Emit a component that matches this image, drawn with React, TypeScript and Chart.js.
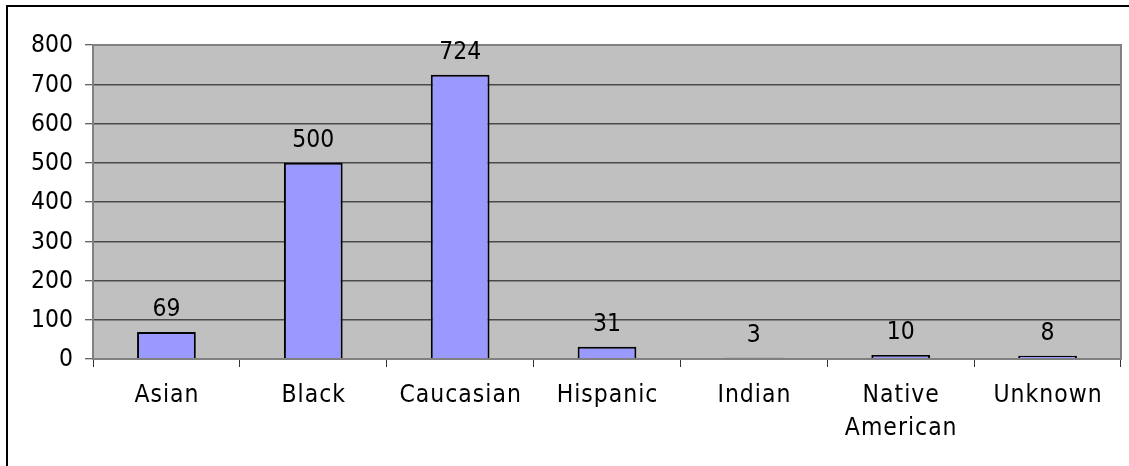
import React, { useEffect, useRef } from "react";
import { Chart, registerables } from "chart.js";

Chart.register(...registerables);

const categories: (string | string[])[] = [
  "Asian",
  "Black",
  "Caucasian",
  "Hispanic",
  "Indian",
  ["Native", "American"],
  "Unknown",
];
const counts: number[] = [69, 500, 724, 31, 3, 10, 8];
const yMin = 0;
const yMax = 800;
const yStep = 100;

const FONT = "'DejaVu Sans', Verdana, sans-serif";
const TEXT_STRETCH = 1.12;

// Text drawn slightly taller than wide, in the style of the chart's typeface
function drawText(ctx: CanvasRenderingContext2D, text: string, x: number, y: number, spacing = 0) {
  ctx.save();
  (ctx as any).letterSpacing = `${spacing}px`;
  ctx.translate(x + spacing / 2, y);
  ctx.scale(1, TEXT_STRETCH);
  ctx.fillText(text, 0, 0);
  ctx.restore();
}

// Grey plot background, frame lines, axis labels and value labels
const decorations = {
  id: "decorations",
  beforeDraw(chart: any) {
    const { ctx, chartArea } = chart;
    ctx.save();
    ctx.fillStyle = "#C0C0C0";
    ctx.fillRect(chartArea.left, chartArea.top, chartArea.right - chartArea.left, chartArea.bottom - chartArea.top);
    // outer frame (top and left edges)
    ctx.strokeStyle = "#000";
    ctx.lineWidth = 2;
    ctx.beginPath();
    ctx.moveTo(7, chart.height + 10);
    ctx.lineTo(7, 6);
    ctx.lineTo(chart.width + 10, 6);
    ctx.stroke();
    ctx.restore();
  },
  afterDatasetsDraw(chart: any) {
    const { ctx, chartArea } = chart;
    ctx.save();
    ctx.strokeStyle = "#808080";
    ctx.lineWidth = 2;
    ctx.strokeRect(chartArea.left, chartArea.top, chartArea.right - chartArea.left, chartArea.bottom - chartArea.top);

    ctx.fillStyle = "#000";
    ctx.font = `22px ${FONT}`;

    // value labels
    const meta = chart.getDatasetMeta(0);
    ctx.textAlign = "center";
    ctx.textBaseline = "alphabetic";
    meta.data.forEach((bar: any, i: number) => {
      drawText(ctx, String(counts[i]), bar.x, bar.y - 16);
    });

    // y tick labels
    const yScale = chart.scales.y;
    ctx.textAlign = "right";
    ctx.textBaseline = "middle";
    yScale.ticks.forEach((t: any) => {
      drawText(ctx, String(t.value), chartArea.left - 20, yScale.getPixelForValue(t.value) + 1);
    });

    // category labels
    const xScale = chart.scales.x;
    ctx.textAlign = "center";
    categories.forEach((label, i) => {
      const lines = Array.isArray(label) ? label : [label];
      const x = xScale.getPixelForValue(i);
      lines.forEach((line, j) => {
        drawText(ctx, line, x, chartArea.bottom + 37 + j * 33, 1);
      });
    });
    ctx.restore();
  },
};

export default function App() {
  const canvasRef = useRef<HTMLCanvasElement | null>(null);

  useEffect(() => {
    if (!canvasRef.current) return;
    const chart = new Chart(canvasRef.current, {
      type: "bar",
      data: {
        labels: categories,
        datasets: [
          {
            data: counts,
            backgroundColor: "#9999FF",
            borderColor: "#000",
            borderWidth: 2,
            barPercentage: 0.4,
            categoryPercentage: 1,
          },
        ],
      },
      options: {
        animation: false,
        responsive: false,
        layout: { padding: { left: 0, top: 45, right: 8, bottom: 0 } },
        plugins: { legend: { display: false }, tooltip: { enabled: false } },
        scales: {
          x: {
            offset: true,
            grid: {
              offset: true,
              drawOnChartArea: false,
              tickLength: 8,
              tickColor: "#333",
              tickWidth: 1,
            },
            border: { color: "#333", width: 1 },
            ticks: {
              color: "rgba(0,0,0,0)",
              font: { family: FONT, size: 22 },
              maxRotation: 0,
              autoSkip: false,
            },
            afterFit(scale: any) {
              scale.height = 466 - 359;
            },
          },
          y: {
            min: yMin,
            max: yMax,
            ticks: {
              stepSize: yStep,
              color: "rgba(0,0,0,0)",
              font: { family: FONT, size: 22 },
              padding: 12,
            },
            grid: {
              color: "#4a4a4a",
              lineWidth: 1.5,
              tickLength: 8,
              tickColor: "#333",
              tickWidth: 1,
            },
            border: { color: "#333", width: 1 },
            afterFit(scale: any) {
              scale.width = 93;
            },
          },
        },
      },
      plugins: [decorations],
    });
    return () => chart.destroy();
  }, []);

  return (
    <div style={{ position: "fixed", left: 0, top: 0, width: 1129, height: 466, background: "#fff" }}>
      <canvas ref={canvasRef} width={1129} height={466} />
    </div>
  );
}
